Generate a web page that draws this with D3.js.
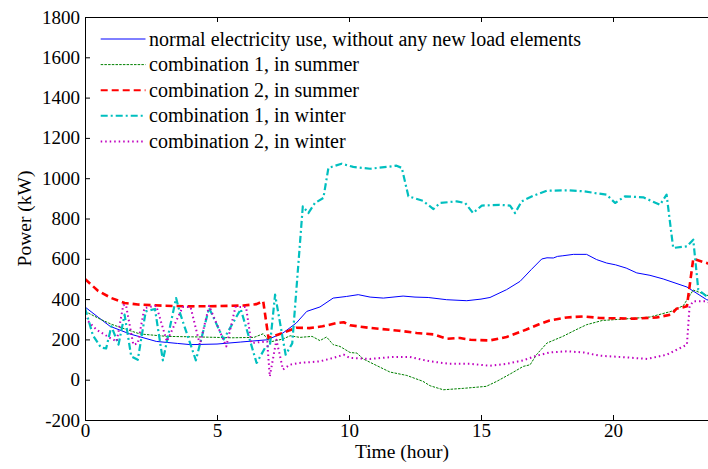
<!DOCTYPE html>
<html>
<head>
<meta charset="utf-8">
<script src="https://cdn.jsdelivr.net/npm/d3@7"></script>
<style>
  html, body { margin: 0; padding: 0; background: #fff; }
  svg { display: block; }
  svg text { font-family: "Liberation Serif", "Times New Roman", serif !important; fill: #000; }
</style>
</head>
<body>
<svg id="chart" width="708" height="469"></svg>
<script>
// ---------- data (hours, kW) ----------
const xTicks = [0, 5, 10, 15, 20];
const yTicks = [-200, 0, 200, 400, 600, 800, 1000, 1200, 1400, 1600, 1800];

const seriesNames = [
  "normal electricity use, without any new load elements",
  "combination 1, in summer",
  "combination 2, in summer",
  "combination 1, in winter",
  "combination 2, in winter"
];

const normalT = [0, 0.5, 0.95, 1.7, 2.7, 3.5, 4.0, 5.0, 5.9, 6.9, 7.5, 8.0, 8.4, 8.9, 9.4, 9.9, 10.35, 10.8, 11.3, 12.05, 12.5, 13.0, 13.7, 14.46, 15.0, 15.34, 15.97, 16.48, 16.9, 17.3, 17.5, 17.74, 17.9, 18.1, 18.5, 19.0, 19.38, 19.76, 20.1, 20.5, 20.9, 21.4, 21.9, 22.8, 23.55, 23.75];
const normalV = [361, 310, 265, 227, 190, 180, 174, 177, 187, 198, 232, 281, 339, 361, 405, 413, 422, 410, 405, 415, 410, 408, 397, 392, 400, 408, 447, 488, 546, 599, 605, 604, 612, 615, 622, 622, 596, 579, 570, 554, 530, 518, 500, 460, 397, 390];

const sum1T = [0, 0.57, 1.0, 1.33, 2.08, 3.1, 4.36, 5.6, 6.4, 6.75, 7.0, 7.5, 7.77, 8.14, 8.6, 8.9, 9.15, 9.4, 9.66, 10.04, 10.3, 10.54, 11.05, 11.55, 12.19, 12.8, 13.07, 13.57, 14.33, 15.2, 15.6, 16.1, 16.6, 16.86, 17.1, 17.5, 18.1, 18.6, 19.0, 19.6, 20.4, 21.4, 22.2, 22.66, 23.04, 23.55, 23.75];
const sum1V = [339, 301, 275, 260, 227, 215, 212, 208, 210, 228, 187, 202, 218, 210, 215, 194, 212, 174, 165, 135, 132, 103, 70, 38, 21, -8, -30, -50, -43, -33, -8, 28, 66, 74, 124, 182, 215, 248, 273, 294, 301, 311, 339, 367, 445, 420, 410];

const sum2T = [0, 0.5, 1.0, 1.5, 2.0, 3.0, 4.0, 5.0, 6.0, 6.5, 6.75, 6.95, 7.5, 8.0, 8.5, 9.0, 9.5, 9.8, 10.04, 10.8, 11.9, 12.56, 13.2, 13.7, 14.2, 14.6, 15.34, 15.97, 16.7, 17.2, 17.6, 18.25, 18.9, 19.5, 20.8, 21.65, 22.2, 22.4, 22.8, 23.04, 23.55, 23.75];
const sum2V = [500, 440, 405, 381, 373, 367, 364, 365, 368, 375, 390, 207, 232, 258, 256, 265, 280, 285, 270, 257, 243, 232, 225, 203, 207, 198, 195, 212, 248, 275, 294, 309, 314, 306, 303, 309, 323, 352, 364, 600, 579, 570];

const win1T = [0, 0.3, 0.6, 0.8, 1.0, 1.27, 1.5, 1.75, 2.0, 2.3, 2.65, 2.95, 3.45, 3.6, 4.2, 4.7, 5.25, 5.9, 6.5, 6.85, 7.0, 7.2, 7.6, 7.85, 8.25, 8.46, 8.71, 9.03, 9.22, 9.72, 10.16, 10.8, 11.43, 11.8, 12.0, 12.25, 12.8, 13.2, 13.45, 14.08, 14.4, 14.7, 15.03, 15.7, 16.1, 16.29, 16.54, 16.98, 17.49, 18.25, 18.9, 19.38, 19.76, 20.08, 20.45, 21.15, 21.78, 22.03, 22.28, 22.8, 23.04, 23.23, 23.55, 23.75];
const win1V = [356, 220, 160, 155, 265, 174, 323, 116, 99, 339, 351, 96, 405, 330, 96, 356, 200, 350, 83, 165, 165, 422, 124, 180, 860, 827, 877, 902, 1051, 1072, 1056, 1047, 1056, 1062, 1051, 910, 888, 847, 877, 885, 877, 827, 864, 868, 864, 827, 885, 913, 938, 940, 935, 925, 918, 877, 910, 905, 868, 918, 654, 662, 695, 447, 413, 400];

const win2T = [0, 0.44, 0.95, 1.2, 1.45, 1.55, 1.83, 2.0, 2.25, 2.7, 3.1, 3.7, 4.0, 4.35, 4.7, 5.35, 5.7, 6.1, 6.3, 6.9, 7.0, 7.25, 7.5, 7.75, 8.1, 8.9, 9.4, 9.8, 10.04, 10.8, 11.68, 12.3, 13.07, 13.8, 14.58, 15.34, 15.97, 16.6, 17.1, 17.6, 18.25, 18.9, 19.5, 20.5, 21.3, 22.03, 22.66, 22.8, 22.9, 23.04, 23.55, 23.75];
const win2V = [306, 248, 207, 190, 370, 372, 174, 180, 356, 367, 190, 361, 360, 174, 367, 165, 361, 361, 182, 190, 16, 198, 50, 74, 83, 91, 108, 124, 108, 103, 113, 113, 91, 79, 79, 69, 79, 96, 119, 135, 141, 135, 119, 111, 103, 124, 165, 174, 364, 389, 389, 375];

const seriesColors = ["#0000ff", "#008000", "#ff0000", "#00bfbf", "#bf00bf"];

// ---------- layout ----------
const FONT = '"Liberation Serif", "Times New Roman", serif';
const svg = d3.select("#chart");
const mLeft = 85, mTop = 17, mBottom = 420;
const hourPx = 26.4;
const x = d3.scaleLinear().domain([0, 24]).range([mLeft, mLeft + 24 * hourPx]);
const y = d3.scaleLinear().domain([-200, 1800]).range([mBottom, mTop]);
const mRight = x(24);

const styles = [
  { w: 1,   dash: null },
  { w: 1,   dash: "2.5,1.2" },
  { w: 2.6, dash: "7,4" },
  { w: 2.2, dash: "7,3,2,3" },
  { w: 2,   dash: "1.5,3" }
];

const series = [
  { t: normalT, v: normalV },
  { t: sum1T, v: sum1V },
  { t: sum2T, v: sum2V },
  { t: win1T, v: win1V },
  { t: win2T, v: win2V }
];

svg.append("defs").append("clipPath").attr("id", "plotclip")
  .append("rect").attr("x", mLeft).attr("y", mTop).attr("width", mRight - mLeft).attr("height", mBottom - mTop);

const line = d3.line().x(d => x(d[0])).y(d => y(d[1]));
const g = svg.append("g").attr("clip-path", "url(#plotclip)");
series.forEach((s, i) => {
  const pts = s.t.map((t, k) => [t, s.v[k]]);
  g.append("path")
    .datum(pts)
    .attr("d", line)
    .attr("fill", "none")
    .attr("stroke", seriesColors[i])
    .attr("stroke-width", styles[i].w)
    .attr("stroke-dasharray", styles[i].dash)
    .attr("stroke-linejoin", "round");
});

const fs = 19;
const plain = d => String(d);
const axB = d3.axisBottom(x).tickValues(xTicks).tickSize(-5).tickPadding(4).tickFormat(plain);
const axT = d3.axisTop(x).tickValues(xTicks).tickSize(-5).tickFormat("");
const axL = d3.axisLeft(y).tickValues(yTicks).tickSize(-5).tickPadding(5).tickFormat(plain);

function styleAxis(sel) {
  sel.attr("font-family", null);
  sel.select(".domain").attr("stroke", "#000").attr("stroke-width", 1);
  sel.selectAll(".tick line").attr("stroke", "#000").attr("stroke-width", 1);
  sel.selectAll("text").style("font-size", fs + "px").style("font-family", FONT).attr("fill", "#000");
}
svg.append("g").attr("transform", `translate(0,${mBottom})`).call(axB).call(styleAxis);
svg.append("g").attr("transform", `translate(0,${mTop})`).call(axT).call(styleAxis);
svg.append("g").attr("transform", `translate(${mLeft},0)`).call(axL).call(styleAxis);

svg.append("text").attr("x", 402).attr("y", 458).attr("text-anchor", "middle")
  .style("font-family", FONT).style("font-size", "19.5px").text("Time (hour)");
svg.append("text").attr("transform", `translate(31,${(mTop + mBottom) / 2}) rotate(-90)`)
  .attr("text-anchor", "middle").style("font-family", FONT).style("font-size", "19.5px").text("Power (kW)");

const lg = svg.append("g");
seriesNames.forEach((name, i) => {
  const ly = 39 + i * 25.6;
  lg.append("line").attr("x1", 100.7).attr("x2", 145.5).attr("y1", ly).attr("y2", ly)
    .attr("stroke", seriesColors[i])
    .attr("stroke-width", Math.min(styles[i].w, 2))
    .attr("stroke-dasharray", styles[i].dash);
  lg.append("text").attr("x", 149).attr("y", ly + 6.5)
    .style("font-family", FONT).style("font-size", "20px").text(name);
});
</script>
</body>
</html>
